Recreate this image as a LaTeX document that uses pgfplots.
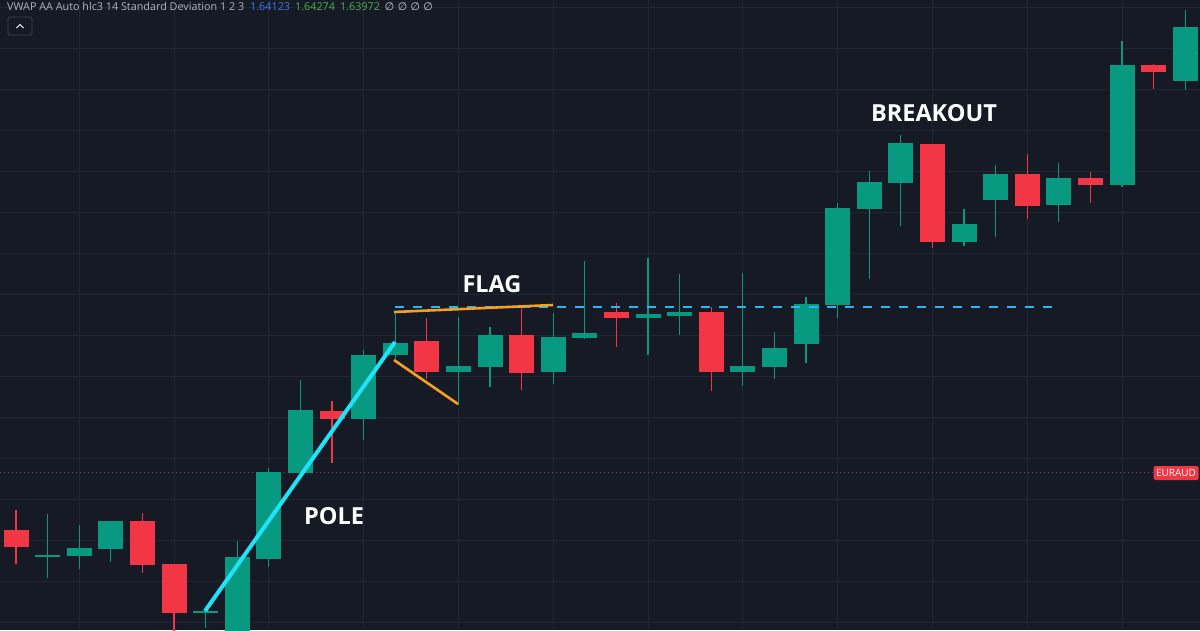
\documentclass[border=0pt]{standalone}
\usepackage{pgfplots}
\usepackage{pgfplotstable}
\pgfplotsset{compat=1.18}
\usepackage{fontspec}
\setmainfont{Open Sans}
\newfontfamily\dejavu{DejaVu Sans}
\definecolor{bg}{RGB}{22,26,37}
\definecolor{gridc}{RGB}{34,38,50}
\definecolor{cg}{RGB}{8,153,129}
\definecolor{cr}{RGB}{242,54,69}
\definecolor{polec}{RGB}{30,228,250}
\definecolor{flagc}{RGB}{245,160,30}
\definecolor{dashc}{RGB}{41,182,246}
\definecolor{txtgray}{RGB}{178,181,190}
\definecolor{txtblue}{RGB}{60,120,240}
\definecolor{txtgreen}{RGB}{76,175,80}
\definecolor{dotc}{RGB}{150,60,80}

% columns: x centre, body top, body bottom, high, low (pixel rows, y down)
\pgfplotstableread{
x t b h l
47.6 555 557 514 578
79.2 548 556 525 569
110.8 521 549 521 562
205.6 611 613 609 628
237.2 557 640 541 640
268.8 472 559 468 567
300.4 410 473 380 473
363.6 355 419 350 440
395.2 343 355 313 359
458.4 366 372 317 405
490 335 367 327 387
553.2 337 372 313 384
584.8 333 338 261 339
648 314 318 258 355
679.6 312 316 274 335
742.8 366 372 273 386
774.4 348 367 332 379
806 304 344 297 363
837.6 208 305 203 318
869.2 182 209 171 279
900.8 143 183 135 226
964 224 242 209 246
995.6 174 200 165 237
1058.8 178 205 163 222
1122 65 185 41 187
1185.2 27 81 10 90
}\greentab

\pgfplotstableread{
x t b h l
16 530 547 510 564
142.4 521 565 513 573
174 564 613 564 640
332 411 419 401 463
426.8 341 372 318 379
521.6 335 373 307 390
616.4 312 318 303 347
711.2 312 372 307 391
932.4 144 242 144 248
1027.2 174 206 154 219
1090.4 178 185 172 203
1153.6 65 72 64 89
}\redtab

\begin{document}
\begin{tikzpicture}
\begin{axis}[at={(0,0)}, anchor=south west,
  width=1200pt, height=630pt, scale only axis,
  xmin=0, xmax=1200, ymin=0, ymax=630, y dir=reverse,
  axis background/.style={fill=bg},
  axis line style={draw=none},
  xtick={79.2,174,268.8,363.6,458.4,553.2,648,742.8,837.6,932.4,1027.2,1122},
  ytick={7,48,...,622},
  xticklabels={}, yticklabels={},
  major tick length=0pt,
  grid=major, grid style={gridc, line width=0.9pt},
  clip=true]

% EURAUD price line
\addplot[dotc, line width=0.8pt, dash pattern=on 1pt off 3pt, forget plot] coordinates {(0,472) (1154,472)};

% wicks
\addplot[draw=none, mark=none, forget plot,
  error bars/.cd, y dir=plus, y explicit, error mark=none,
  error bar style={line width=1.3pt, draw=cg}]
  table[x=x, y=h, y error expr=\thisrow{l}-\thisrow{h}] {\greentab};
\addplot[draw=none, mark=none, forget plot,
  error bars/.cd, y dir=plus, y explicit, error mark=none,
  error bar style={line width=1.3pt, draw=cr}]
  table[x=x, y=h, y error expr=\thisrow{l}-\thisrow{h}] {\redtab};
% bodies
\addplot[draw=none, mark=none, forget plot,
  error bars/.cd, y dir=plus, y explicit, error mark=none,
  error bar style={line width=25pt, draw=cg}]
  table[x=x, y=t, y error expr=\thisrow{b}-\thisrow{t}] {\greentab};
\addplot[draw=none, mark=none, forget plot,
  error bars/.cd, y dir=plus, y explicit, error mark=none,
  error bar style={line width=25pt, draw=cr}]
  table[x=x, y=t, y error expr=\thisrow{b}-\thisrow{t}] {\redtab};

% breakout level
\addplot[dashc, line width=2pt, dash pattern=on 9pt off 9pt, forget plot] coordinates {(395,307) (1056,307)};
% flag lines
\addplot[flagc, line width=2.6pt, forget plot] coordinates {(394,312) (553,305)};
\addplot[flagc, line width=2.6pt, forget plot] coordinates {(394,360) (458,404)};
% pole
\addplot[polec, line width=4pt, forget plot] coordinates {(205,611) (395,342)};

% labels
\node[text=white, font=\fontsize{23.5}{24}\selectfont\bfseries] at (axis cs:492,284) {FLAG};
\node[text=white, font=\fontsize{23.5}{24}\selectfont\bfseries] at (axis cs:334,516) {POLE};
\node[text=white, font=\fontsize{23.5}{24}\selectfont\bfseries] at (axis cs:934,113) {BREAKOUT};

\node[fill=cr, text=white, rounded corners=1.5pt, inner sep=0pt, minimum width=45pt, minimum height=14pt, font=\fontsize{10}{10}\selectfont] at (axis cs:1176,473) {EURAUD};

\node[anchor=west, inner sep=0pt, font=\fontsize{10.8}{11}\selectfont] at (axis cs:7,6) {\textcolor{txtgray}{VWAP AA Auto hlc3 14 Standard Deviation 1 2 3}\hspace{6pt}\textcolor{txtblue}{1.64123}\hspace{5pt}\textcolor{txtgreen}{1.64274}\hspace{5pt}\textcolor{txtgreen}{1.63972}\hspace{5pt}\textcolor{txtgray!60!white}{\dejavu ∅ ∅ ∅ ∅}};

\draw[draw=gridc!70!gray, rounded corners=2pt, line width=0.8pt] (axis cs:8,17) rectangle (axis cs:32,35);
\draw[draw=white, line width=1pt] (axis cs:16.5,28) -- (axis cs:20,24.5) -- (axis cs:23.5,28);
\end{axis}
\pgfresetboundingbox
\path[use as bounding box] (0,0) rectangle (1200pt,630pt);
\end{tikzpicture}
\end{document}
